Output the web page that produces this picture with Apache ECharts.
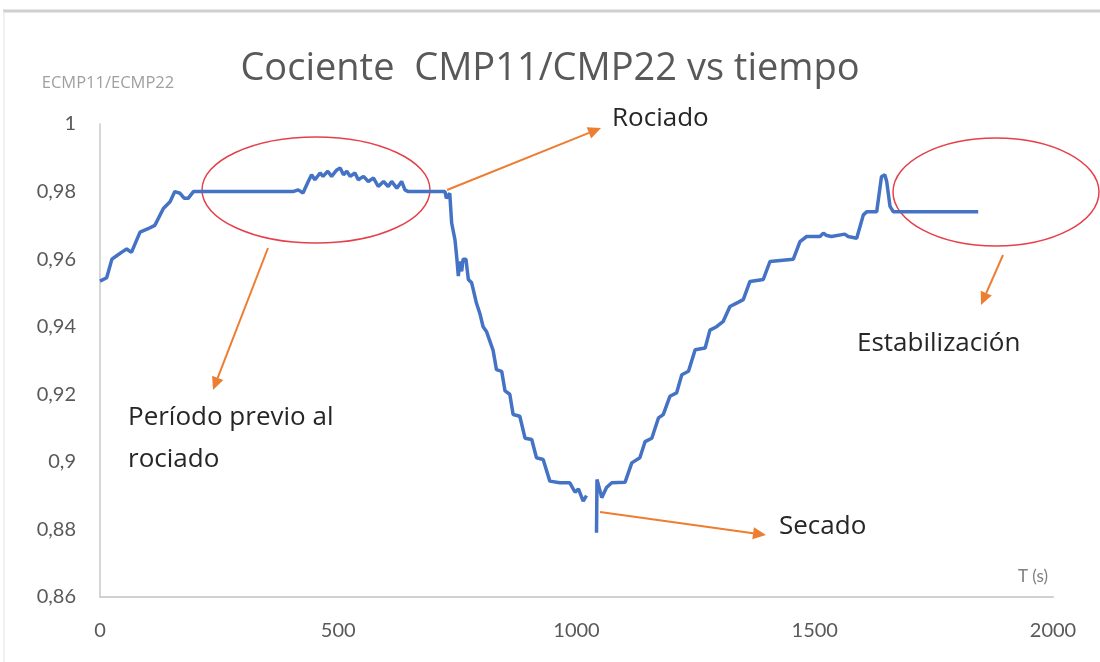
<!DOCTYPE html>
<html>
<head>
<meta charset="utf-8">
<title>Cociente CMP11/CMP22 vs tiempo</title>
<script src="https://cdn.jsdelivr.net/npm/echarts@6/dist/echarts.min.js"></script>
<style>
    html, body { margin: 0; padding: 0; background: #fff; }
    #chart { width: 1100px; height: 662px; }
</style>
</head>
<body>
<div id="chart"></div>
<script>
// tiempo (s)
const tiempo = [
    0, 4, 14, 25, 35, 45, 56, 66, 84, 101,
    115, 133, 147, 157, 168, 177, 185, 196, 405, 416,
    426, 437, 444, 451, 462, 468, 478, 486, 497, 504,
    511, 518, 525, 535, 542, 553, 563, 574, 584, 595,
    605, 612, 623, 633, 640, 647, 724, 727, 734, 738,
    745, 749, 752, 755, 759, 762, 768, 773, 780, 790,
    797, 804, 811, 825, 832, 843, 850, 860, 867, 881,
    892, 906, 916, 930, 944, 965, 986, 997, 1004, 1014,
    1021, 1032, 1042, 1043, 1053, 1063, 1074, 1102, 1116, 1133,
    1144, 1158, 1172, 1182, 1196, 1210, 1221, 1235, 1249, 1270,
    1280, 1294, 1308, 1322, 1336, 1350, 1364, 1392, 1406, 1455,
    1469, 1483, 1511, 1518, 1525, 1535, 1563, 1570, 1588, 1602,
    1609, 1630, 1640, 1647, 1651, 1658, 1665, 1843
];
// cociente ECMP11/ECMP22 (null = hueco en la serie)
const cociente = [
    0.9535, 0.954, 0.9545, 0.960, 0.961, 0.962, 0.963, 0.962, 0.968, 0.969,
    0.970, 0.975, 0.977, 0.980, 0.9795, 0.978, 0.978, 0.980, 0.980, 0.9805,
    0.9796, 0.983, 0.985, 0.9835, 0.9855, 0.9845, 0.986, 0.9845, 0.9864, 0.987,
    0.985, 0.986, 0.9845, 0.9855, 0.9835, 0.9845, 0.983, 0.984, 0.9815, 0.983,
    0.9815, 0.983, 0.981, 0.983, 0.9805, 0.980, 0.980, 0.978, 0.9795, 0.9707,
    0.9657, 0.960, 0.955, 0.9593, 0.9564, 0.960, 0.960, 0.954, 0.953, 0.947,
    0.944, 0.940, 0.9386, 0.933, 0.9273, 0.9268, 0.921, 0.920, 0.914, 0.9135,
    0.907, 0.9066, 0.9012, 0.9007, 0.8943, 0.8938, 0.8938, 0.891, 0.892, 0.8884,
    0.890, null, 0.879, 0.8948, 0.8894, 0.8924, 0.8938, 0.894, 0.8997, 0.9012,
    0.906, 0.907, 0.913, 0.914, 0.9194, 0.9204, 0.9258, 0.9268, 0.9332, 0.9337,
    0.939, 0.940, 0.9416, 0.946, 0.947, 0.948, 0.9534, 0.954, 0.9593, 0.960,
    0.9652, 0.9667, 0.9667, 0.9677, 0.967, 0.9667, 0.9674, 0.9667, 0.9662, 0.9731,
    0.974, 0.974, 0.9844, 0.985, 0.983, 0.9756, 0.974, 0.974
];
const yTicks = [0.86, 0.88, 0.9, 0.92, 0.94, 0.96, 0.98, 1];
const xTicks = [0, 500, 1000, 1500, 2000];

const naranja = '#ED7D31';
const rojo = '#E5404A';
const fuente = 'Lato, "Open Sans", sans-serif';
const fuenteAnch = '"Open Sans", Lato, sans-serif';

// flecha: línea + punta triangular
function flecha(x1, y1, x2, y2) {
    const a = Math.atan2(y2 - y1, x2 - x1);
    const L = 13, W = 6;
    const bx = x2 - L * Math.cos(a), by = y2 - L * Math.sin(a);
    const px = -Math.sin(a) * W, py = Math.cos(a) * W;
    return [
        { type: 'line', shape: { x1: x1, y1: y1, x2: bx, y2: by },
          style: { stroke: naranja, lineWidth: 2 } },
        { type: 'polygon', shape: { points: [[x2, y2], [bx + px, by + py], [bx - px, by - py]] },
          style: { fill: naranja } }
    ];
}

function texto(x, y, t, size, color, align, fam) {
    return { type: 'text', x: x, y: y,
        style: { text: t, fill: color, font: size + 'px ' + (fam || fuenteAnch),
                 textAlign: align || 'left', textVerticalAlign: 'middle' } };
}

const chart = echarts.init(document.getElementById('chart'));
chart.setOption({
    animation: false,
    title: {
        text: 'Cociente  CMP11/CMP22 vs tiempo',
        left: 'center', top: 45,
        textStyle: { fontFamily: fuenteAnch, fontSize: 38, fontWeight: 'normal', color: '#595959' }
    },
    grid: { left: 100, right: 47, top: 124, bottom: 65 },
    xAxis: {
        type: 'value', min: 0, max: 2000, interval: 500,
        axisLine: { lineStyle: { color: '#d0d0d0', width: 2 } },
        axisTick: { show: false },
        splitLine: { show: false },
        axisLabel: { margin: 24, fontFamily: fuente, fontSize: 20, color: '#595959',
                     formatter: v => String(v) }
    },
    yAxis: {
        type: 'value', min: 0.86, max: 1, interval: 0.02,
        axisLine: { show: true, lineStyle: { color: '#c8c8c8', width: 1.5 } },
        axisTick: { show: false },
        splitLine: { show: false },
        axisLabel: {
            margin: 24, fontFamily: fuente, fontSize: 20, color: '#595959',
            formatter: v => String(+v.toFixed(2)).replace('.', ',')
        }
    },
    series: [{
        type: 'line',
        data: tiempo.map((t, i) => [t, cociente[i]]),
        showSymbol: false,
        connectNulls: false,
        lineStyle: { color: '#4472C4', width: 3.5 }
    }],
    graphic: [
        // marco
        { type: 'line', shape: { x1: 3, y1: 11, x2: 1100, y2: 11 }, style: { stroke: '#cfcfcf', lineWidth: 3 } },
        { type: 'line', shape: { x1: 4, y1: 11, x2: 4, y2: 662 }, style: { stroke: '#e2e2e2', lineWidth: 1 } },
        texto(108, 83, 'ECMP11/ECMP22', 16.5, '#a0a0a0', 'center'),
        texto(1033, 577, 'T (s)', 17, '#7f7f7f', 'center', fuente),
        // elipses
        { type: 'ellipse', shape: { cx: 316, cy: 190, rx: 114, ry: 53 },
          style: { fill: 'none', stroke: rojo, lineWidth: 1.5 } },
        { type: 'ellipse', shape: { cx: 996, cy: 192, rx: 103, ry: 54 },
          style: { fill: 'none', stroke: rojo, lineWidth: 1.5 } },
        // flechas
        ...flecha(268, 248, 213, 390),
        ...flecha(447, 190, 601, 128),
        ...flecha(600, 512, 766, 535),
        ...flecha(1003, 255, 981, 305),
        // textos
        texto(612, 119, 'Rociado', 26, '#262626'),
        texto(779, 527, 'Secado', 26, '#262626'),
        texto(857, 344, 'Estabilización', 26, '#262626'),
        texto(128, 418, 'Período previo al', 26, '#262626'),
        texto(128, 460, 'rociado', 26, '#262626')
    ]
});
</script>
</body>
</html>
